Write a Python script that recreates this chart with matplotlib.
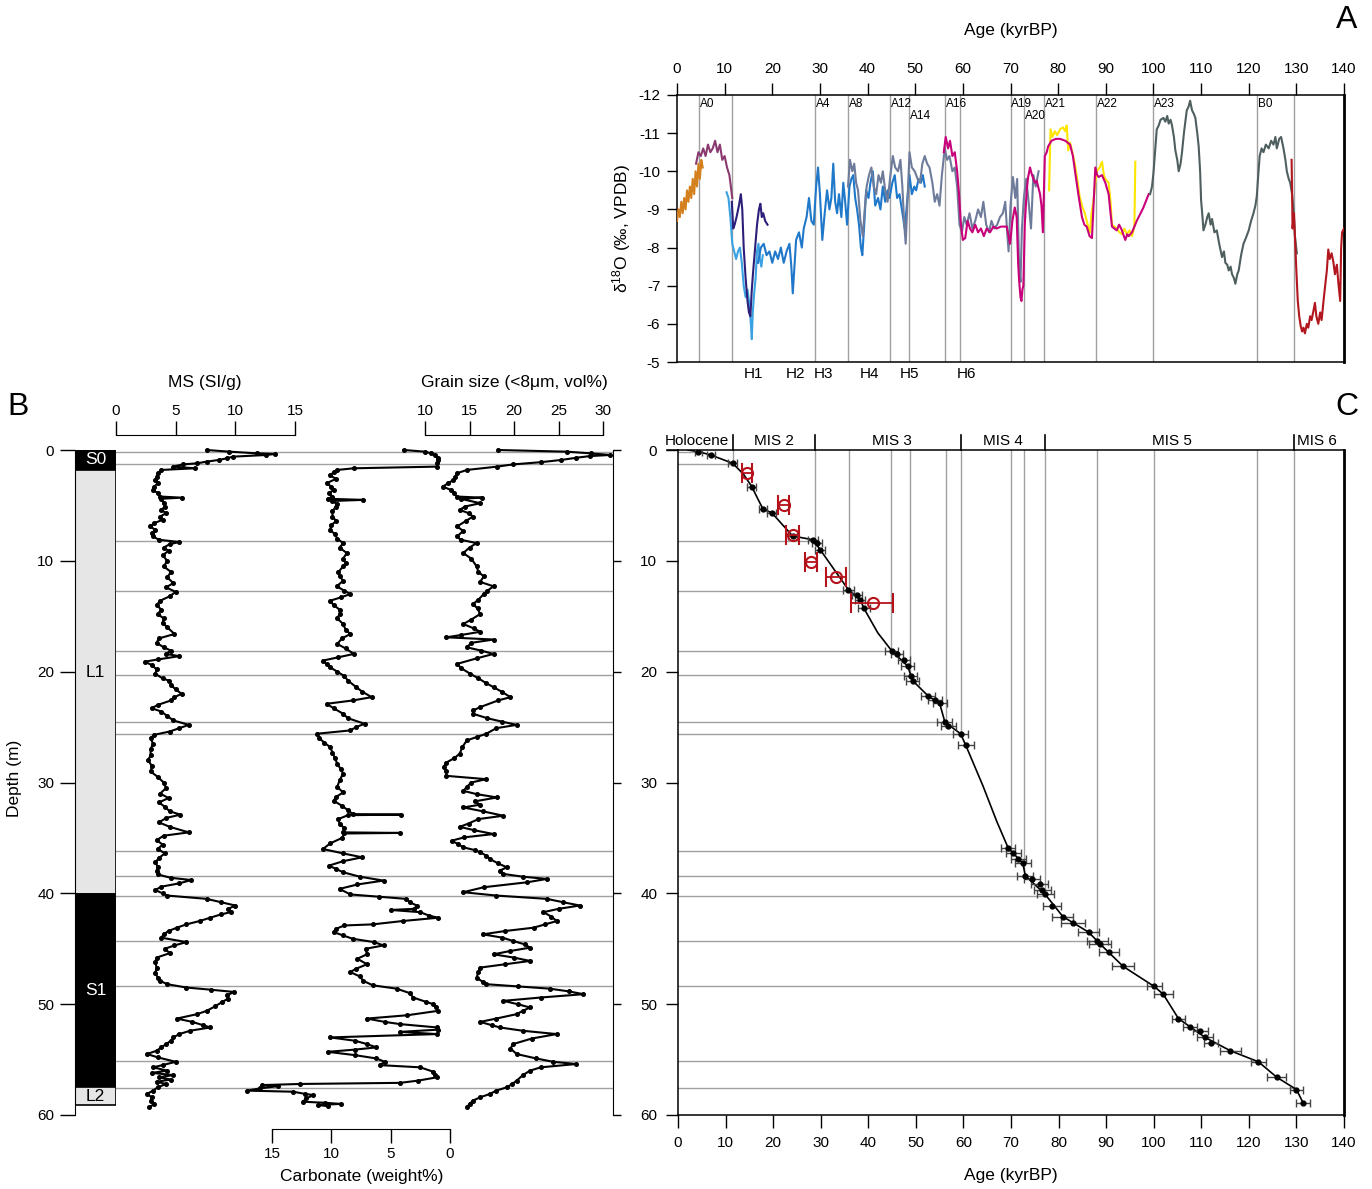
import numpy as np
import matplotlib
matplotlib.use("Agg")
import matplotlib.pyplot as plt
from matplotlib.patches import Rectangle

plt.rcParams['font.family'] = ['Liberation Sans', 'DejaVu Sans']
plt.rcParams['axes.unicode_minus'] = False
plt.rcParams['mathtext.fontset'] = 'custom'
plt.rcParams['mathtext.rm'] = 'Liberation Sans'
plt.rcParams['mathtext.it'] = 'Liberation Sans:italic'

# ---------------- panel A: speleothem d18O records (age kyrBP, d18O) ----------------
ORANGE_AGE = [0.0,0.3,0.6,0.9,1.2,1.5,1.8,2.1,2.4,2.7,3.0,3.3,3.6,3.9,4.2,4.5,4.8,5.1,5.4]
ORANGE_D18O = [-8.7,-9.0,-8.8,-9.2,-8.9,-9.3,-9.0,-9.5,-9.2,-9.6,-9.3,-9.8,-9.4,-10.0,-9.6,-10.2,-9.8,-10.3,-10.1]
PURPLE_AGE = [4.0,4.5,5.0,5.5,6.0,6.5,7.0,7.5,8.0,8.5,9.0,9.5,10.0,10.5,11.0,11.3,11.6]
PURPLE_D18O = [-10.2,-10.5,-10.4,-10.6,-10.4,-10.7,-10.5,-10.6,-10.8,-10.5,-10.7,-10.3,-10.4,-10.1,-9.9,-9.6,-9.3]
LBLUE_AGE = [10.4,10.8,11.2,11.6,12.0,12.4,12.8,13.2,13.6,14.0,14.4,14.8,15.2,15.5,15.7,15.9,16.2,16.5,16.8,17.1,17.4,17.7,18.0]
LBLUE_D18O = [-9.45,-9.3,-8.8,-8.1,-7.9,-7.7,-7.9,-8.0,-7.6,-7.0,-6.7,-6.9,-6.5,-6.0,-5.6,-6.3,-6.8,-7.2,-7.9,-8.1,-7.7,-7.5,-7.8]
INDIGO_AGE = [11.5,11.8,12.1,12.5,13.0,13.4,13.7,14.0,14.4,14.8,15.1,15.4,15.7,16.0,16.4,16.8,17.2,17.5,17.8,18.1,18.5,19.0]
INDIGO_D18O = [-9.2,-8.5,-8.6,-8.8,-9.1,-9.4,-9.0,-8.0,-7.2,-6.6,-6.3,-6.2,-6.9,-7.4,-8.0,-8.6,-9.0,-9.15,-8.8,-8.9,-8.7,-8.6]
BLUE_AGE = [17.0,17.6,18.2,18.8,19.4,20.0,20.6,21.2,21.8,22.4,23.0,23.6,24.0,24.3,24.7,25.0,25.6,26.2,26.6,27.2,
            27.7,28.2,28.7,29.2,29.6,30.0,30.5,31.0,31.5,32.0,32.4,32.8,33.2,33.6,34.0,34.5,34.9,35.3,35.7,36.2,
            36.6,37.0,37.4,37.8,38.2,38.6,38.9,39.3,39.7,40.2,40.6,41.1,41.6,42.2,42.7,43.2,43.7,44.2,44.6,45.2,
            45.7,46.2,46.7,47.2,47.8,48.3,48.8,49.3,49.8,50.2,50.7,51.2,51.6,52.0]
BLUE_D18O = [-7.6,-8.0,-8.1,-7.8,-7.9,-7.6,-7.9,-7.7,-8.0,-7.6,-7.9,-8.1,-7.5,-6.8,-7.6,-8.2,-8.4,-8.0,-8.5,-8.8,
             -9.3,-8.7,-8.6,-9.6,-10.1,-9.4,-8.2,-8.9,-9.5,-9.0,-9.3,-10.2,-9.2,-8.9,-9.4,-8.8,-9.7,-9.2,-8.6,-9.6,
             -9.8,-9.9,-9.3,-9.0,-8.6,-8.0,-7.8,-8.6,-9.5,-9.3,-9.7,-10.0,-9.1,-9.3,-9.0,-9.6,-9.2,-9.5,-9.3,-9.7,
             -9.9,-9.3,-9.4,-9.0,-8.5,-9.2,-9.9,-9.4,-9.6,-9.5,-9.8,-9.7,-9.9,-9.6]
GREY_AGE = [35.9,36.3,36.8,37.2,37.6,38.0,38.5,39.0,39.4,39.8,40.3,40.8,41.3,41.8,42.3,42.8,43.2,43.7,44.2,44.7,
            45.3,45.8,46.4,46.9,47.3,47.7,48.0,48.4,48.8,49.3,49.9,50.5,51.0,51.5,52.0,52.5,53.0,53.6,54.1,54.6,
            55.1,55.6,56.2,56.7,57.2,57.8,58.3,58.8,59.3,59.8,60.3,60.8,61.4,62.0,62.6,63.2,63.8,64.3,64.9,65.5,
            66.0,66.6,67.2,67.8,68.4,68.9,69.3,69.6,70.0,70.5,71.0,71.4,71.8,72.1,72.4,72.8,73.3,73.8,74.3,74.8,
            75.3,75.9]
GREY_D18O = [-9.6,-10.3,-10.0,-10.2,-9.7,-9.5,-8.7,-8.3,-9.0,-9.6,-9.9,-10.1,-9.6,-9.4,-9.9,-9.7,-10.0,-9.5,-9.2,-9.8,
             -10.4,-10.1,-10.0,-10.3,-9.6,-8.6,-8.1,-9.3,-10.5,-10.1,-10.0,-9.8,-9.7,-10.2,-10.4,-10.2,-10.1,-9.7,-9.2,-9.4,
             -9.1,-9.9,-10.6,-10.3,-10.4,-10.0,-10.1,-9.6,-8.6,-8.4,-8.8,-8.6,-8.9,-8.5,-8.7,-9.0,-8.8,-9.2,-8.6,-8.4,
             -8.7,-8.5,-8.6,-8.8,-8.9,-9.2,-8.4,-7.9,-9.1,-9.85,-9.3,-9.8,-7.5,-7.1,-8.5,-9.3,-9.8,-9.2,-8.5,-9.9,
             -9.6,-10.0]
YELLOW_AGE = [78.1,78.4,78.8,79.3,79.8,80.4,81.0,81.5,81.8,82.1,82.5,82.8,83.5,84.0,84.5,85.0,85.6,86.2,86.7,87.0,
              87.4,87.8,88.1,88.7,89.2,89.6,89.9,90.6,91.0,91.3,91.8,92.3,92.9,93.4,93.9,94.4,95.0,95.5,96.0,96.2]
YELLOW_D18O = [-9.5,-11.1,-10.9,-11.05,-10.95,-11.1,-11.15,-11.05,-11.2,-10.55,-10.75,-10.6,-10.2,-9.8,-9.35,-9.1,-8.9,-8.6,-8.4,-8.9,
               -9.2,-9.7,-10.0,-10.1,-10.25,-9.9,-9.8,-9.7,-9.2,-8.6,-8.55,-8.5,-8.4,-8.35,-8.5,-8.35,-8.45,-8.3,-8.55,-10.25]
MAGENTA_AGE = [56.0,56.4,56.9,57.3,57.8,58.3,58.8,59.2,59.6,60.0,60.5,61.0,61.5,62.0,62.6,63.2,63.8,64.4,65.0,65.7,
               66.4,67.1,68.0,69.2,69.9,70.4,70.9,71.3,71.6,71.8,72.1,72.3,72.5,72.7,73.0,73.4,73.7,74.1,74.4,74.8,
               75.1,75.5,75.8,76.2,76.5,76.8,77.2,77.6,77.9,78.6,79.5,80.4,81.5,82.5,83.1,83.6,84.3,85.0,85.5,86.0,
               86.6,87.1,87.5,87.8,88.2,88.5,89.2,89.9,90.6,91.0,91.3,91.8,92.3,92.8,93.4,93.8,94.1,94.5,94.8,95.5,
               96.5,97.9,99.0]
MAGENTA_D18O = [-10.5,-10.9,-10.6,-10.8,-10.4,-10.5,-10.0,-9.4,-8.6,-8.2,-8.25,-8.7,-8.5,-8.4,-8.6,-8.4,-8.5,-8.3,-8.5,-8.4,
                -8.55,-8.5,-8.55,-8.55,-8.1,-8.7,-9.05,-8.8,-7.6,-7.15,-6.7,-6.6,-6.9,-7.0,-8.6,-9.5,-9.85,-10.1,-9.95,-9.8,
                -9.7,-9.75,-9.6,-9.4,-9.1,-8.4,-10.4,-10.5,-10.65,-10.8,-10.85,-10.85,-10.8,-10.7,-10.4,-9.95,-9.35,-8.8,-8.6,-8.55,
                -8.3,-8.25,-9.3,-10.1,-9.9,-9.85,-9.9,-9.7,-9.4,-8.9,-8.55,-8.5,-8.45,-8.6,-8.45,-8.3,-8.2,-8.35,-8.3,-8.4,
                -8.7,-9.05,-9.4]
SLATE_AGE = [99.3,99.7,100.0,100.4,100.7,101.1,101.5,102.1,102.5,102.9,103.2,103.6,103.9,104.3,104.6,105.0,105.3,105.7,106.0,106.4,
             107.0,107.4,107.7,108.1,108.5,108.8,109.2,109.5,109.8,110.0,110.3,110.5,110.9,111.3,111.6,112.0,112.3,112.8,113.3,113.8,
             114.4,114.8,115.1,115.5,115.8,116.2,116.5,116.9,117.2,117.6,117.9,118.4,118.9,119.4,120.0,120.5,121.0,121.4,121.7,122.0,
             122.3,122.7,123.1,123.6,124.2,124.7,125.2,125.6,125.9,126.4,126.8,127.3,127.7,128.0,128.4,128.7,129.1,129.4,129.7,130.1]
SLATE_D18O = [-9.4,-9.6,-9.95,-10.6,-11.1,-11.2,-11.35,-11.4,-11.3,-11.45,-11.25,-11.35,-11.2,-10.9,-10.55,-10.3,-10.0,-10.2,-10.5,-11.0,
              -11.6,-11.7,-11.85,-11.6,-11.5,-11.4,-11.0,-10.65,-10.0,-9.25,-8.8,-8.45,-8.6,-8.8,-8.9,-8.6,-8.75,-8.4,-8.45,-8.1,
              -7.75,-7.9,-7.6,-7.55,-7.4,-7.5,-7.3,-7.2,-7.05,-7.3,-7.4,-7.8,-8.1,-8.25,-8.45,-8.7,-8.9,-9.1,-9.35,-9.9,
              -10.4,-10.6,-10.5,-10.7,-10.6,-10.8,-10.7,-10.9,-10.6,-10.85,-10.9,-10.6,-10.3,-10.0,-9.8,-9.7,-9.4,-9.0,-8.3,-7.85]
RED_AGE_A = [129.0,129.1,129.2,129.5,129.8,130.0,130.3,130.6,130.9,131.2,131.5,131.8,132.2,132.5,132.9,133.2,133.6,133.9,134.2,134.6,
             135.0,135.3,135.7,136.0,136.4,136.7,137.0,137.4,137.8,138.1,138.5,138.8,139.2,139.4,139.6,140.0]
RED_D18O_A = [-10.3,-9.5,-8.5,-8.9,-8.0,-7.4,-6.6,-6.2,-5.95,-5.8,-5.9,-5.75,-6.0,-5.9,-6.2,-6.1,-6.35,-6.55,-6.2,-6.0,
              -6.3,-6.1,-6.6,-6.95,-7.4,-7.95,-7.7,-7.85,-7.6,-7.3,-7.55,-7.1,-6.6,-8.0,-8.4,-8.5]

# tie points (age kyrBP, depth m) and their labels
TIE_AGE = [4.6, 11.5, 28.9, 35.9, 44.8, 48.8, 56.3, 59.5, 70.0, 72.8, 77.1, 88.0, 100.0, 121.7, 129.5]
TIE_DEPTH = [0.2, 1.25, 8.2, 12.7, 18.1, 20.3, 24.5, 25.6, 36.2, 38.4, 40.2, 44.3, 48.4, 55.1, 57.6]
TIE_LABEL = ['A0', '', 'A4', 'A8', 'A12', 'A14', 'A16', '', 'A19', 'A20', 'A21', 'A22', 'A23', 'B0', '']
TIE_LOW = ['A14', 'A20']
H_LABEL = ['H1', 'H2', 'H3', 'H4', 'H5', 'H6']
H_AGE = [16.0, 24.8, 30.7, 40.3, 48.7, 60.7]

# ---------------- panel B: loess proxies vs depth ----------------
MS_DEPTH = [0.0,0.15,0.3,0.36,0.45,0.6,0.75,0.9,1.05,1.2,1.3,1.5,1.65,1.8,2.1,2.4,2.7,3.0,3.3,3.6,
            3.9,4.2,4.3,4.4,4.8,5.1,5.4,5.7,6.0,6.3,6.6,6.9,7.2,7.5,7.8,8.1,8.3,8.5,8.8,9.1,
            9.5,10.0,10.5,11.0,11.5,12.0,12.4,12.8,13.2,13.6,14.0,14.4,14.8,15.2,15.6,16.0,16.6,17.0,17.4,17.8,
            18.1,18.4,18.6,18.9,19.1,19.4,19.8,20.2,20.6,20.8,21.2,21.6,22.0,22.3,22.6,23.0,23.3,23.6,24.0,24.4,
            24.8,25.1,25.4,25.7,26.0,26.5,27.0,27.5,28.0,28.5,29.0,29.5,30.0,30.5,31.0,31.4,31.8,32.2,32.6,32.9,
            33.2,33.6,34.0,34.5,34.8,35.2,35.6,36.0,36.4,36.8,37.2,37.6,38.0,38.3,38.6,38.8,39.1,39.4,39.7,40.0,
            40.2,40.5,40.8,41.1,41.4,41.7,41.9,42.2,42.5,42.8,43.1,43.4,43.7,44.0,44.4,44.7,45.0,45.4,45.8,46.2,
            46.7,47.2,47.6,47.9,48.2,48.5,48.7,48.9,49.2,49.5,49.8,50.2,50.6,50.9,51.3,51.6,51.9,52.1,52.4,52.7,
            53.0,53.3,53.6,53.9,54.2,54.5,54.8,55.2,55.5,55.7,56.0,56.2,56.4,56.6,56.8,57.0,57.2,57.5,57.8,58.1,
            58.4,58.7,59.0,59.3]
MS_VAL = [7.6,9.5,11.8,13.3,12.6,9.8,9.3,8.6,7.6,6.8,5.6,4.8,6.6,3.8,3.5,3.4,3.3,3.5,3.2,3.1,
          3.5,3.7,5.5,3.8,4.0,4.1,3.8,4.2,3.7,3.9,3.2,2.85,3.3,3.0,3.1,3.6,5.3,4.5,4.0,4.4,
          3.9,4.3,4.0,4.6,4.3,4.8,4.2,5.0,4.5,3.7,3.4,3.8,3.5,4.0,3.9,4.3,4.9,3.6,3.4,4.0,
          4.6,4.2,5.3,3.5,2.4,3.0,3.4,3.3,3.9,4.4,4.6,5.0,5.5,4.9,4.6,3.5,3.0,3.8,4.3,4.8,
          6.1,5.3,4.5,3.2,2.9,3.1,2.9,2.9,2.7,3.0,2.9,3.5,4.0,4.2,3.7,4.4,3.6,4.1,4.5,5.4,
          4.2,3.6,4.5,6.1,4.0,3.4,3.9,3.5,4.1,3.6,3.3,3.5,3.4,3.5,4.6,6.3,5.3,3.8,3.3,3.9,
          4.3,7.6,8.8,10.0,9.4,9.6,8.8,7.9,7.0,5.9,5.1,4.4,4.0,3.8,5.9,4.9,4.1,4.5,3.4,3.3,
          3.4,3.3,3.5,3.7,4.3,5.9,8.0,9.9,9.3,9.4,8.9,8.3,7.6,6.8,5.1,6.4,7.3,7.9,6.2,5.3,
          4.8,4.6,4.2,3.8,3.4,2.6,3.5,5.0,3.9,3.1,4.3,3.0,4.8,3.6,4.6,3.4,4.2,3.5,3.1,2.6,
          3.0,2.9,3.2,2.8]

CARB_DEPTH = [0.0,0.15,0.3,0.45,0.7,0.9,1.2,1.5,1.65,1.8,2.0,2.3,2.6,3.0,3.3,3.6,3.9,4.2,4.4,4.5,
              4.6,4.9,5.1,5.5,6.0,6.4,6.8,7.2,7.6,8.0,8.4,8.8,9.3,9.8,10.2,10.5,11.0,11.4,11.8,12.3,
              12.7,13.0,13.3,13.6,14.0,14.4,14.8,15.2,15.7,16.2,16.6,17.0,17.5,17.9,18.4,18.7,19.0,19.3,19.6,20.0,
              20.4,20.8,21.4,21.8,22.3,22.6,22.9,23.3,23.8,24.2,24.7,25.0,25.3,25.6,26.0,26.4,26.8,27.3,27.8,28.3,
              28.8,29.2,29.8,30.4,30.9,31.3,31.65,32.1,32.5,32.85,32.9,32.95,33.3,33.75,34.1,34.5,34.55,34.6,35.0,35.5,
              36.0,36.4,36.75,37.1,37.5,37.8,38.1,38.5,38.85,39.2,39.6,40.1,40.3,40.5,40.8,41.1,41.4,41.5,41.7,42.0,
              42.2,42.5,42.8,42.9,43.2,43.5,43.8,44.1,44.4,44.7,45.0,45.5,45.9,46.4,46.8,47.1,47.5,47.9,48.3,48.6,
              49.0,49.4,49.8,50.0,50.3,50.6,51.0,51.3,51.6,51.8,52.1,52.3,52.5,52.7,53.0,53.3,53.6,53.9,54.1,54.3,
              54.6,54.9,55.2,55.5,55.7,56.1,56.4,56.6,56.9,57.1,57.2,57.3,57.4,57.6,57.8,57.9,58.1,58.2,58.5,58.8,
              58.9,59.0,59.1,59.2]
CARB_VAL = [3.9,2.1,1.6,1.3,1.0,1.0,1.1,1.1,8.1,9.5,9.8,10.1,9.6,10.4,10.0,9.8,10.2,9.9,10.3,7.3,
            9.9,9.5,9.6,9.9,9.9,9.6,10.0,10.1,9.7,9.5,9.0,9.3,8.7,9.0,8.8,9.0,9.4,9.3,9.0,9.55,
            8.9,8.4,9.2,10.1,9.8,9.3,9.3,9.5,9.0,8.8,8.4,9.1,9.5,8.8,8.1,9.4,10.7,10.4,10.1,9.5,
            8.9,8.6,7.9,7.4,6.6,8.2,10.4,9.8,9.0,8.6,7.2,7.9,8.4,11.2,11.0,10.6,10.1,9.9,9.7,9.5,
            9.2,9.0,9.3,9.5,9.0,9.6,9.8,9.1,8.6,8.2,4.1,8.6,9.4,9.3,8.9,9.0,4.2,8.9,9.1,10.1,
            10.7,9.0,7.4,9.0,10.2,9.6,9.0,7.6,5.6,7.8,9.3,8.4,6.0,3.7,3.4,2.8,3.0,5.0,2.5,1.8,
            1.0,4.0,6.5,8.9,9.6,9.8,9.0,8.2,6.4,5.6,7.1,7.0,7.8,7.0,7.9,8.4,7.6,7.3,6.5,4.5,
            3.4,3.1,2.0,1.4,1.2,1.0,3.6,7.0,5.5,4.2,1.1,1.0,4.2,1.1,10.1,8.0,7.0,6.2,8.0,10.3,
            8.0,6.2,5.5,5.9,2.5,1.4,1.3,1.1,2.7,4.2,12.6,15.8,14.5,16.0,17.1,13.2,12.2,11.5,12.1,12.4,
            10.5,9.2,11.1,10.3]

GS_DEPTH = [0.0,0.15,0.3,0.45,0.55,0.7,0.9,1.1,1.3,1.5,1.8,2.1,2.4,2.7,3.0,3.3,3.6,3.9,4.2,4.3,
            4.4,4.8,5.1,5.4,5.7,6.0,6.4,6.9,7.3,7.8,8.1,8.4,8.8,9.3,9.8,10.5,11.0,11.4,11.9,12.3,
            12.7,13.0,13.5,13.9,14.3,14.8,15.3,15.7,16.1,16.4,16.7,16.9,17.1,17.4,17.8,18.1,18.4,18.8,19.3,19.7,
            20.2,20.6,21.0,21.4,21.8,22.3,22.6,23.2,23.5,23.8,24.2,24.5,24.8,25.1,25.6,25.9,26.2,26.8,27.4,27.8,
            28.2,28.6,29.0,29.4,29.7,30.0,30.4,30.75,31.05,31.35,31.7,32.0,32.25,32.6,33.0,33.3,33.7,34.0,34.3,34.65,
            34.95,35.25,35.55,35.85,36.1,36.3,36.6,36.9,37.3,37.65,37.95,38.25,38.5,38.7,39.0,39.45,39.9,40.2,40.5,40.8,
            41.1,41.4,41.7,42.1,42.5,42.8,43.1,43.4,43.7,44.0,44.3,44.6,44.9,45.2,45.5,45.8,46.1,46.4,46.7,47.1,
            47.6,48.0,48.2,48.4,48.6,48.85,49.1,49.4,49.7,50.0,50.3,50.6,50.9,51.3,51.6,51.9,52.1,52.4,52.7,53.1,
            53.6,54.0,54.5,54.9,55.2,55.4,55.7,56.0,56.4,56.9,57.2,57.5,57.8,58.1,58.4,58.7,59.0,59.3]
GS_VAL = [18.2,25.9,28.6,30.8,28.5,27.0,25.3,23.0,19.9,18.1,14.7,13.6,13.4,13.2,12.6,12.0,12.9,13.3,13.6,16.4,
          14.0,16.2,14.5,13.9,14.9,15.4,14.6,13.6,14.3,13.6,14.0,15.8,15.0,14.3,15.2,15.8,16.0,16.6,16.2,17.7,
          17.0,16.6,16.0,15.4,15.9,16.2,15.2,14.3,15.5,16.2,14.0,12.4,17.7,15.2,14.7,16.3,17.7,15.8,13.6,14.1,
          15.1,16.0,16.8,17.7,18.6,19.6,18.2,16.2,15.4,15.4,17.0,18.6,20.3,18.0,16.9,15.8,14.7,14.2,13.9,13.3,
          12.4,12.1,12.4,12.4,16.9,15.2,14.7,14.3,15.8,18.1,15.6,16.2,14.3,16.5,18.8,16.0,14.9,13.9,15.5,17.7,
          14.4,13.0,13.7,14.3,15.6,16.2,16.9,17.3,18.2,19.2,18.4,18.8,21.0,23.7,21.5,16.6,14.3,18.0,23.7,25.5,
          27.4,25.0,23.3,24.2,24.8,23.5,22.2,19.0,16.5,18.7,19.9,21.2,21.8,19.6,17.7,20.0,21.8,19.0,16.2,16.0,
          15.8,16.5,16.9,20.5,24.0,26.2,27.8,23.0,18.8,20.4,21.8,21.0,20.3,18.0,16.2,17.5,18.4,21.0,24.8,22.0,
          19.9,19.6,20.3,22.5,24.4,27.0,23.0,21.8,21.0,20.3,19.8,19.2,18.0,17.3,16.2,15.4,15.0,14.7]

LITHO_NAME = ['S0', 'L1', 'S1', 'L2']
LITHO_TOP = [0.0, 1.8, 40.1, 57.5]
LITHO_BASE = [1.8, 40.1, 57.5, 59.1]
LITHO_FILL = ['black', '#e6e6e6', 'black', '#e6e6e6']

# ---------------- panel C: age-depth model ----------------
DATE_AGE = [4.3, 6.9, 11.5, 15.5, 17.9, 19.7, 24.1, 28.4, 29.2, 29.9, 35.8, 37.6, 38.3, 39.1, 44.9, 46.1, 47.5, 48.3,
            48.9, 49.3, 52.6, 54.0, 55.0, 56.1, 56.8, 59.4, 60.5, 69.4, 70.5, 71.5, 72.5, 73.0, 74.4, 76.0, 76.6, 77.2,
            78.6, 80.9, 83.0, 86.3, 88.1, 88.8, 90.7, 93.6, 100.1, 102.0, 105.2, 107.7, 109.8, 110.8, 112.0, 116.1,
            122.0, 125.9, 130.0, 131.4]
DATE_DEPTH = [0.15, 0.45, 1.2, 3.3, 5.35, 5.66, 7.76, 8.1, 8.4, 9.0, 12.6, 13.1, 13.5, 14.3, 18.1, 18.4, 18.95, 19.5,
              20.4, 20.8, 22.2, 22.6, 22.85, 24.55, 24.9, 25.6, 26.65, 35.9, 36.4, 36.9, 37.3, 38.4, 38.75, 39.2, 39.7, 40.1,
              41.1, 42.1, 42.7, 43.5, 44.3, 44.6, 45.3, 46.6, 48.4, 49.1, 51.3, 52.1, 52.4, 53.0, 53.5, 54.2,
              55.2, 56.6, 57.7, 58.9]
DATE_ERR = [0.8, 0.8, 1.0, 0.9, 0.9, 0.9, 1.0, 1.0, 1.0, 1.0, 1.1, 1.1, 1.1, 1.2, 1.3, 1.3, 1.3, 1.4,
            1.4, 1.4, 1.5, 1.5, 1.5, 1.6, 1.6, 1.6, 1.7, 1.5, 1.6, 1.6, 1.7, 1.7, 1.7, 1.7, 1.8, 1.8,
            1.9, 2.2, 2.5, 2.2, 2.2, 2.3, 2.1, 2.3, 1.6, 2.0, 1.4, 1.5, 1.6, 1.6, 1.5, 2.2,
            1.5, 2.0, 1.3, 1.5]
MODEL_AGE = [2.1, 4.3, 6.9, 11.5, 13.8, 15.5, 17.0, 17.9, 19.7, 24.1, 28.4, 29.9, 35.8, 38.3, 39.1, 42.0, 44.9, 48.3,
             49.3, 52.6, 55.0, 56.1, 59.4, 60.5, 64.1, 67.0, 69.4, 72.5, 73.0, 77.2, 80.9, 86.3, 88.8, 93.6, 100.1,
             102.0, 105.2, 110.8, 116.1, 122.0, 125.9, 130.0, 131.4]
MODEL_DEPTH = [0.0, 0.15, 0.45, 1.2, 2.2, 3.3, 4.6, 5.35, 5.66, 7.76, 8.1, 9.0, 12.6, 13.5, 14.3, 16.5, 18.1, 19.5,
               20.8, 22.2, 22.85, 24.55, 25.6, 26.65, 30.3, 33.5, 35.9, 37.3, 38.4, 40.1, 42.1, 43.5, 44.6, 46.6, 48.4,
               49.1, 51.3, 53.0, 54.2, 55.2, 56.6, 57.7, 58.9]
C14_AGE = [14.6, 22.2, 24.1, 28.0, 33.2, 40.9]
C14_DEPTH = [2.1, 4.96, 7.67, 10.1, 11.5, 13.8]
C14_ERR_LO = [1.05, 1.1, 1.3, 1.2, 2.1, 4.5]
C14_ERR_HI = [1.05, 1.1, 1.3, 1.2, 2.1, 4.4]
MIS_BOUND = [11.6, 28.9, 59.5, 77.1, 129.5]
MIS_NAME = ['Holocene', 'MIS 2', 'MIS 3', 'MIS 4', 'MIS 5', 'MIS 6']
MIS_POS = [4.0, 20.1, 44.9, 68.4, 103.9, 130.2]

W, H = 1372, 1189
fig = plt.figure(figsize=(W / 100, H / 100), dpi=100)
def box(l, t, r, b):
    return [l / W, 1 - b / H, (r - l) / W, (b - t) / H]
GRAY = '#a0a0a0'
TS = 11

# ================= A =================
axA = fig.add_axes(box(677, 95, 1344, 362))
axA.set_xlim(0, 140); axA.set_ylim(-5, -12)
for a in TIE_AGE:
    axA.axvline(a, color=GRAY, lw=1, zorder=1)
for a, lab in zip(TIE_AGE, TIE_LABEL):
    if lab:
        yy = 0.922 if lab in TIE_LOW else 0.966
        axA.text(a + 0.2, yy, lab, transform=axA.get_xaxis_transform(), fontsize=8.5, ha='left', va='center')
series = [(ORANGE_AGE, ORANGE_D18O, '#d4801e'), (PURPLE_AGE, PURPLE_D18O, '#8b3a70'),
          (LBLUE_AGE, LBLUE_D18O, '#3aa2e2'), (INDIGO_AGE, INDIGO_D18O, '#2b1f7a'),
          (BLUE_AGE, BLUE_D18O, '#1f78c9'), (GREY_AGE, GREY_D18O, '#6e7b9b'),
          (YELLOW_AGE, YELLOW_D18O, '#ffe500'), (MAGENTA_AGE, MAGENTA_D18O, '#c8007a'),
          (SLATE_AGE, SLATE_D18O, '#4f5f5f'), (RED_AGE_A, RED_D18O_A, '#b2161e')]
for x, y, c in series:
    axA.plot(x, y, color=c, lw=1.5, zorder=3)
axA.xaxis.tick_top()
axA.set_xticks(np.arange(0, 141, 10))
axA.set_yticks(np.arange(-12, -4, 1))
axA.tick_params(axis='x', direction='out', length=9, width=1, pad=5, labelsize=TS)
axA.tick_params(axis='y', direction='out', length=7, width=1, pad=5, labelsize=TS)
axA.xaxis.set_label_position('top')
axA.set_xlabel('Age (kyrBP)', fontsize=12.5, labelpad=19)
axA.set_ylabel(r'$\mathregular{\delta^{18}}$O (‰, VPDB)', fontsize=12.5, labelpad=4)
for s in axA.spines.values():
    s.set_linewidth(1.1)
axA.spines['right'].set_linewidth(2)
for a, lab in zip(H_AGE, H_LABEL):
    axA.text(a, -0.044, lab, transform=axA.get_xaxis_transform(), fontsize=TS, ha='center', va='center')
fig.text(1347 / W, 1 - 20 / H, 'A', fontsize=23, ha='center', va='center')

# ================= B =================
axBg = fig.add_axes(box(116, 450, 613, 1115))
axBg.set_xlim(0, 1); axBg.set_ylim(60, 0)
for d in TIE_DEPTH:
    axBg.axhline(d, color=GRAY, lw=1)
for k in ['top', 'bottom', 'left']:
    axBg.spines[k].set_visible(False)
axBg.set_xticks([])
axBg.yaxis.tick_right()
axBg.set_yticks(np.arange(0, 61, 10))
axBg.tick_params(axis='y', direction='out', length=6, width=1, labelright=False)
axBg.patch.set_visible(False)

axL = fig.add_axes(box(75, 450, 116, 1115))
axL.set_xlim(0, 1); axL.set_ylim(60, 0)
for name, t, b, f in zip(LITHO_NAME, LITHO_TOP, LITHO_BASE, LITHO_FILL):
    axL.add_patch(Rectangle((0, t), 1, b - t, facecolor=f, edgecolor='black', lw=1.2))
    axL.text(0.5, (t + b) / 2 if name != 'L1' else 20.1, name, fontsize=12.5, ha='center', va='center',
             color='white' if f == 'black' else 'black')
for k in ['top', 'bottom', 'right']:
    axL.spines[k].set_visible(False)
axL.set_xticks([])
axL.set_yticks(np.arange(0, 61, 10))
axL.tick_params(axis='y', direction='out', length=11, width=1, pad=4, labelsize=TS)
axL.patch.set_visible(False)
fig.text(15 / W, 1 - 778 / H, 'Depth (m)', fontsize=12.5, rotation=90, ha='center', va='center')

def curve_axes(l, r, xlim):
    ax = fig.add_axes(box(l, 450, r, 1115))
    ax.set_xlim(*xlim); ax.set_ylim(60, 0)
    ax.patch.set_visible(False)
    for s in ax.spines.values():
        s.set_visible(False)
    ax.set_yticks([])
    return ax

axMS = curve_axes(116, 295, (0, 15))
axMS.plot(MS_VAL, MS_DEPTH, color='black', lw=1.5, marker='o', ms=2.6, clip_on=False)
axMS.spines['top'].set_visible(True); axMS.spines['top'].set_position(('outward', 11))
axMS.xaxis.tick_top(); axMS.set_xticks([0, 5, 10, 15])
axMS.tick_params(axis='x', direction='out', length=10, width=1, pad=2, labelsize=TS)
fig.text(205 / W, 1 - 383 / H, 'MS (SI/g)', fontsize=12.5, ha='center', va='center')

axGS = curve_axes(425, 613, (10, 10 + 188 / 8.9))
axGS.plot(GS_VAL, GS_DEPTH, color='black', lw=1.5, marker='o', ms=2.6, clip_on=False)
axGS.spines['top'].set_visible(True); axGS.spines['top'].set_position(('outward', 11))
axGS.spines['top'].set_bounds(10, 30)
axGS.xaxis.tick_top(); axGS.set_xticks([10, 15, 20, 25, 30])
axGS.tick_params(axis='x', direction='out', length=10, width=1, pad=2, labelsize=TS)
fig.text(514 / W, 1 - 383 / H, 'Grain size (<8μm, vol%)', fontsize=12.5, ha='center', va='center')

axCb = curve_axes(116, 450, ((450 - 116) / 11.87, 0))
axCb.plot(CARB_VAL, CARB_DEPTH, color='black', lw=1.5, marker='o', ms=2.6, clip_on=False)
axCb.spines['bottom'].set_visible(True); axCb.spines['bottom'].set_position(('outward', 10))
axCb.spines['bottom'].set_bounds(0, 15)
axCb.set_xticks([15, 10, 5, 0])
axCb.tick_params(axis='x', direction='out', length=10, width=1, pad=3, labelsize=TS)
fig.text(362 / W, 1 - 1176 / H, 'Carbonate (weight%)', fontsize=12.5, ha='center', va='center')
fig.text(18 / W, 1 - 407 / H, 'B', fontsize=23, ha='center', va='center')

# ================= C =================
axC = fig.add_axes(box(678, 450, 1344, 1115))
axC.set_xlim(0, 140); axC.set_ylim(60, 0)
for a, d in zip(TIE_AGE, TIE_DEPTH):
    axC.plot([0, a], [d, d], color=GRAY, lw=1, zorder=1)
    axC.plot([a, a], [0, d], color=GRAY, lw=1, zorder=1)
axC.plot(MODEL_AGE, MODEL_DEPTH, color='black', lw=1.2, zorder=3)
axC.errorbar(DATE_AGE, DATE_DEPTH, xerr=DATE_ERR, fmt='o', color='black', ms=3.5,
             ecolor='#444444', elinewidth=1, capsize=3, zorder=4)
axC.errorbar(C14_AGE, C14_DEPTH, xerr=[C14_ERR_LO, C14_ERR_HI], fmt='o', mfc='none', mec='#b5121b',
             mew=1.5, ms=8, ecolor='#b5121b', elinewidth=1.3, capsize=7, capthick=1.3, zorder=5)
for a in MIS_BOUND:
    axC.plot([a, a], [0, -1.35], color='black', lw=1.2, clip_on=False)
for a, name in zip(MIS_POS, MIS_NAME):
    axC.text(a, -0.8, name, fontsize=11, ha='left' if name == 'MIS 6' else 'center', va='center')
axC.plot([-2.3, 0], [0, 0], color='black', lw=1.1, clip_on=False)
axC.set_xticks(np.arange(0, 141, 10))
axC.set_yticks(np.arange(0, 61, 10))
axC.tick_params(direction='out', length=9, width=1, pad=6, labelsize=TS)
axC.set_xlabel('Age (kyrBP)', fontsize=12.5, labelpad=13)
for s in axC.spines.values():
    s.set_linewidth(1.1)
axC.spines['right'].set_linewidth(2)
fig.text(1347 / W, 1 - 407 / H, 'C', fontsize=23, ha='center', va='center')

fig.savefig('out.png', dpi=100)
